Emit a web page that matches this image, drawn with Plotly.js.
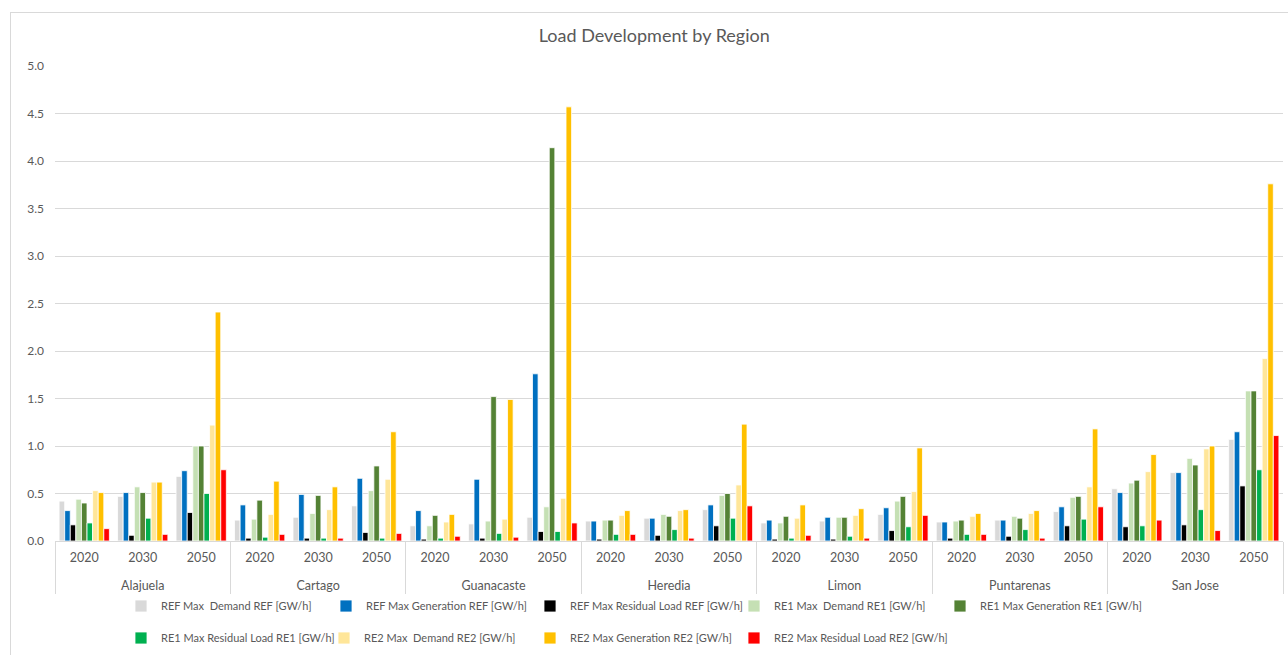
<!DOCTYPE html>
<html>
<head>
<meta charset="utf-8">
<script src="https://cdn.plot.ly/plotly-3.0.1.min.js"></script>
<style>
  html, body { margin: 0; padding: 0; background: #ffffff; width: 1288px; height: 655px; overflow: hidden; position: relative; }
  #frame { position: absolute; left: 10px; top: 12px; width: 1290px; height: 660px; border: 1px solid #d9d9d9; box-sizing: border-box; }
  #chart { position: absolute; left: 11px; top: 13px; width: 1277px; height: 642px; }
</style>
</head>
<body>
<div id="frame"></div>
<div id="chart"></div>
<script>
const regions = ["Alajuela", "Cartago", "Guanacaste", "Heredia", "Limon", "Puntarenas", "San Jose"];
const years = ["2020", "2030", "2050"];

const seriesNames = [
  "REF Max  Demand REF [GW/h]",
  "REF Max Generation REF [GW/h]",
  "REF Max Residual Load REF [GW/h]",
  "RE1 Max  Demand RE1 [GW/h]",
  "RE1 Max Generation RE1 [GW/h]",
  "RE1 Max Residual Load RE1 [GW/h]",
  "RE2 Max  Demand RE2 [GW/h]",
  "RE2 Max Generation RE2 [GW/h]",
  "RE2 Max Residual Load RE2 [GW/h]"
];

// values ordered region by region, years 2020, 2030, 2050
const refDemand = [0.42,0.47,0.68, 0.22,0.25,0.37, 0.16,0.18,0.25, 0.21,0.24,0.33, 0.19,0.21,0.28, 0.20,0.22,0.31, 0.55,0.72,1.07];
const refGen    = [0.32,0.51,0.74, 0.38,0.49,0.66, 0.32,0.65,1.76, 0.21,0.24,0.38, 0.22,0.25,0.35, 0.20,0.22,0.36, 0.51,0.72,1.15];
const refResid  = [0.17,0.06,0.30, 0.03,0.03,0.09, 0.02,0.03,0.10, 0.02,0.06,0.16, 0.02,0.02,0.11, 0.03,0.05,0.16, 0.15,0.17,0.58];
const re1Demand = [0.44,0.57,1.00, 0.23,0.29,0.53, 0.16,0.21,0.36, 0.22,0.28,0.48, 0.19,0.25,0.42, 0.21,0.26,0.46, 0.61,0.87,1.58];
const re1Gen    = [0.40,0.51,1.00, 0.43,0.48,0.79, 0.27,1.52,4.14, 0.22,0.26,0.50, 0.26,0.25,0.47, 0.22,0.24,0.47, 0.64,0.80,1.58];
const re1Resid  = [0.19,0.24,0.50, 0.04,0.03,0.03, 0.03,0.08,0.10, 0.07,0.12,0.24, 0.03,0.05,0.15, 0.07,0.12,0.23, 0.16,0.33,0.75];
const re2Demand = [0.53,0.62,1.22, 0.28,0.33,0.65, 0.20,0.23,0.45, 0.27,0.32,0.59, 0.24,0.27,0.52, 0.26,0.29,0.57, 0.73,0.97,1.92];
const re2Gen    = [0.51,0.62,2.41, 0.63,0.57,1.15, 0.28,1.49,4.57, 0.32,0.33,1.23, 0.38,0.34,0.98, 0.29,0.32,1.18, 0.91,1.00,3.76];
const re2Resid  = [0.13,0.07,0.75, 0.07,0.03,0.08, 0.05,0.04,0.19, 0.07,0.03,0.37, 0.06,0.03,0.27, 0.07,0.03,0.36, 0.22,0.11,1.11];

const seriesValues = [refDemand, refGen, refResid, re1Demand, re1Gen, re1Resid, re2Demand, re2Gen, re2Resid];
const seriesColors = ["#D9D9D9", "#0070C0", "#000000", "#C5E0B4", "#548235", "#00B050", "#FFE699", "#FFC000", "#FF0000"];

// legend entry placement (page pixels of each entry's left edge, and row)
const legendLeft = [121, 326, 530, 734, 940, 121, 324, 530, 734];
const legendRow  = [0, 0, 0, 0, 0, 1, 1, 1, 1];

const xRegion = [], xYear = [];
// leading line break drops the region row a line below the year row
regions.forEach(r => years.forEach(y => { xRegion.push("<br>" + r); xYear.push(y); }));

const traces = seriesValues.map((vals, i) => ({
  type: "bar",
  name: seriesNames[i],
  x: [xRegion, xYear],
  y: vals,
  marker: { color: seriesColors[i], line: { color: "#ffffff", width: 0.8 } },
  legend: i === 0 ? "legend" : "legend" + (i + 1),
  hoverinfo: "y+name"
}));

const FONT = "Lato, 'Open Sans', sans-serif";
const layout = {
  width: 1277, height: 642,
  margin: { l: 44, r: 5, t: 53, b: 114, autoexpand: false },
  paper_bgcolor: "rgba(0,0,0,0)",
  plot_bgcolor: "#ffffff",
  font: { family: FONT, size: 12, color: "#595959" },
  title: {
    text: "Load Development by Region",
    font: { family: FONT, size: 18, color: "#595959" },
    x: 0.488, xref: "paper", xanchor: "center",
    y: 0.964, yref: "container", yanchor: "middle"
  },
  barmode: "group",
  bargap: 0.14,
  bargroupgap: 0,
  xaxis: {
    type: "multicategory",
    showline: true, linecolor: "#d9d9d9", linewidth: 1,
    showgrid: false,
    showdividers: true, dividercolor: "#d9d9d9", dividerwidth: 1,
    tickfont: { family: FONT, size: 12.5, color: "#595959" },
    ticks: "",
    ticklabelstandoff: 5
  },
  yaxis: {
    range: [0, 5],
    dtick: 0.5,
    tickformat: ".1f",
    showgrid: true, gridcolor: "#d9d9d9", gridwidth: 1,
    zeroline: false,
    showline: false,
    tickfont: { family: FONT, size: 12, color: "#595959" },
    ticklabelstandoff: 10
  },
  showlegend: true
};

const rowY = [0.0763, 0.0265];
seriesNames.forEach((n, i) => {
  const key = i === 0 ? "legend" : "legend" + (i + 1);
  layout[key] = {
    orientation: "h",
    xref: "container", x: (legendLeft[i] - 11) / 1277, xanchor: "left",
    yref: "container", y: rowY[legendRow[i]], yanchor: "middle",
    itemwidth: 30,
    font: { family: FONT, size: 11, color: "#595959" },
    bgcolor: "rgba(0,0,0,0)"
  };
});

Plotly.newPlot("chart", traces, layout, { displayModeBar: false, staticPlot: true });
</script>
</body>
</html>
